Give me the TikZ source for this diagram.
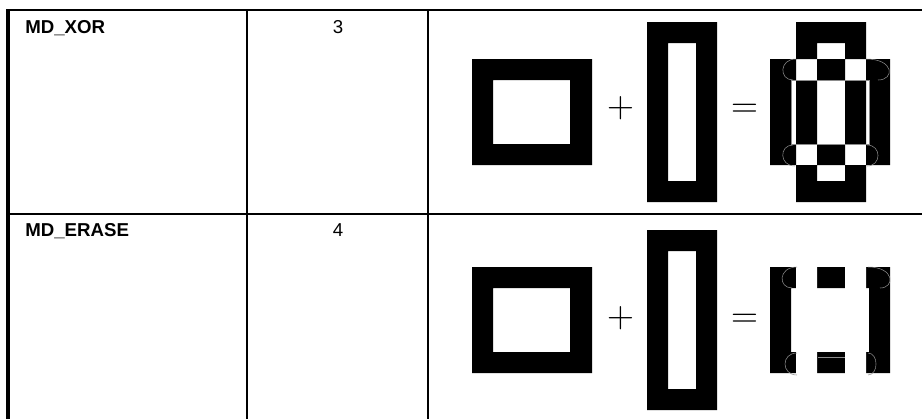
\documentclass[tikz,border=0pt]{standalone}
\usepackage{fontspec}
\newfontfamily\cellfont{Liberation Sans}

\begin{document}
\begin{tikzpicture}[x=0.75pt, y=-0.75pt,
    gridrule/.style={line width=1.5pt},
    edgerule/.style={line width=3pt},
    ink/.style={fill=black},
    seam/.style={draw=black!45, line width=0.4pt},
    cellname/.style={anchor=base west, inner sep=0pt, font=\cellfont\bfseries\fontsize{14}{16}\selectfont},
    cellcode/.style={anchor=base, inner sep=0pt, font=\cellfont\fontsize{14}{16}\selectfont},
    opsign/.style={inner sep=0pt, font=\rmfamily\fontsize{28}{30}\selectfont}]

\useasboundingbox (0,0) rectangle (922,419);

% table grid
\draw[edgerule] (8,9) -- (8,419);
\draw[gridrule] (6.5,10) -- (922,10);
\draw[gridrule] (6.5,213.5) -- (922,213.5);
\draw[gridrule] (247,10) -- (247,419);
\draw[gridrule] (428,10) -- (428,419);

\node[cellname] (nameXor) at (25,33) {MD\_XOR};
\node[cellcode] (codeXor) at (338,33) {3};
\node[cellname] (nameErase) at (25,236) {MD\_ERASE};
\node[cellcode] (codeErase) at (338,236) {4};

% row 1: xor
\fill[ink, even odd rule] (472,59) rectangle (592,165) (493,80) rectangle (570,144);
\node[opsign] (plusXor) at (620.5,108) {+};
\fill[ink, even odd rule] (647,22) rectangle (717,202) (668,43) rectangle (696,181);
\node[opsign] (eqXor) at (744.5,111) {=};
\fill[ink, even odd rule] (770,59) rectangle (890,165) (791,80) rectangle (869,144)
    (796,22) rectangle (866,202) (817,43) rectangle (845,181);
\draw[seam] (791,80) rectangle (869,144);
\draw[seam] (796,59) .. controls (779,59) and (779,80) .. (793,80);
\draw[seam] (866,59) .. controls (894.7,59) and (894.7,80) .. (878,80);
\draw[seam] (793,145) .. controls (779,145) and (779,166) .. (795,166);
\draw[seam] (867,145) .. controls (881.7,145) and (881.7,166) .. (867,166);

% row 2: erase
\begin{scope}[shift={(0,208)}]
\fill[ink, even odd rule] (472,59) rectangle (592,165) (493,80) rectangle (570,144);
\node[opsign] (plusErase) at (620.5,110) {+};
\fill[ink, even odd rule] (647,22) rectangle (717,202) (668,43) rectangle (696,181);
\node[opsign] (eqErase) at (744.5,113) {=};
\fill[ink, even odd rule] (770,59) rectangle (890,165) (791,80) rectangle (869,144);
\fill[white, even odd rule] (796,22) rectangle (866,202) (817,43) rectangle (845,181);
\draw[seam] (797,59) .. controls (778,59) and (778,80) .. (792,80);
\draw[seam] (868,59) .. controls (895,59) and (895,80) .. (880,80);
\draw[seam] (797,145) .. controls (781,145) and (781,167) .. (797,167);
\draw[seam] (868,145) .. controls (878.7,145) and (878.7,167) .. (868,167);
\draw[seam] (818,149) -- (845,149);
\end{scope}

\end{tikzpicture}
\end{document}
